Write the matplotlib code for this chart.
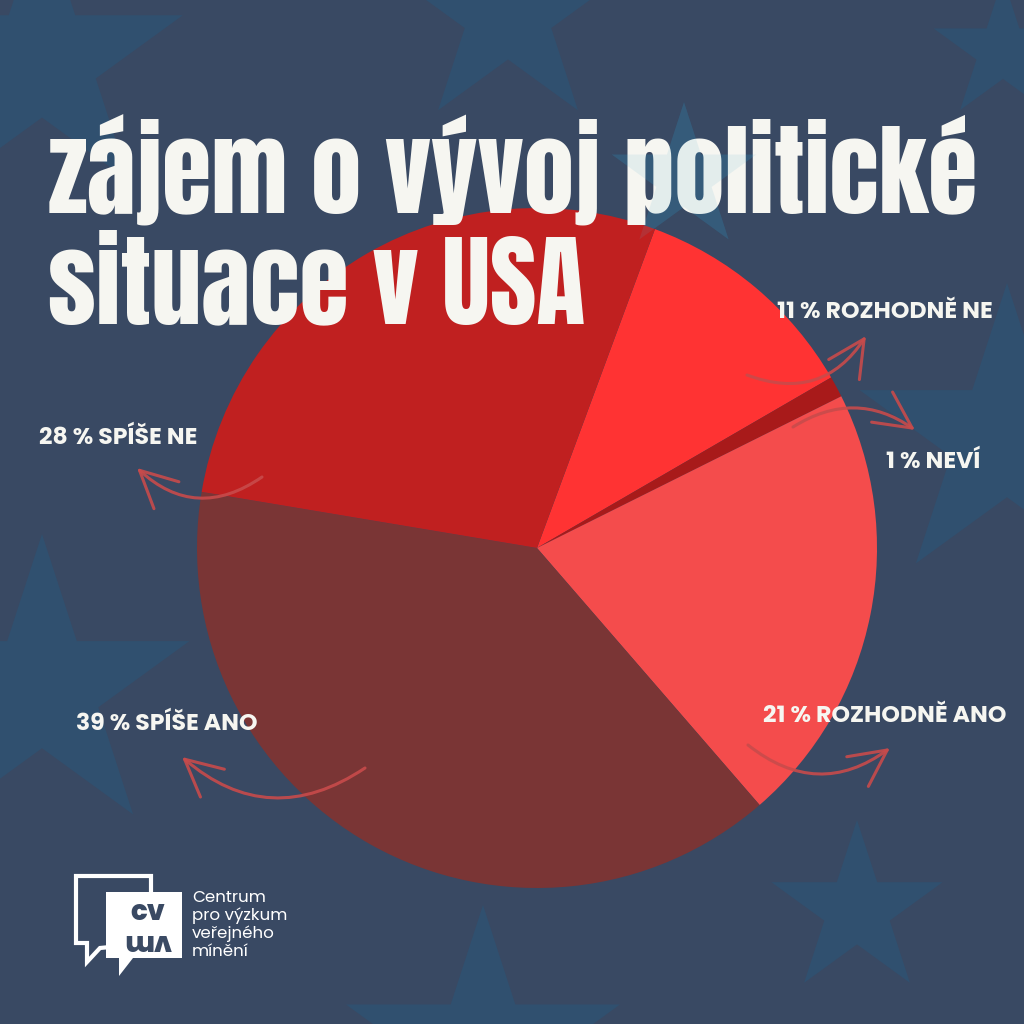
import numpy as np
import matplotlib
matplotlib.use("Agg")
import matplotlib.pyplot as plt
from matplotlib.patches import Polygon

# data
labels = ["11 % ROZHODNĚ NE", "1 % NEVÍ", "21 % ROZHODNĚ ANO", "39 % SPÍŠE ANO", "28 % SPÍŠE NE"]
shares = [11, 1, 21, 39, 28]
slice_colors = ["#FF3333", "#A81A1A", "#F44C4C", "#7A3535", "#C02020"]
title_lines = ["zájem o vývoj politické", "situace v USA"]
logo_lines = ["Centrum", "pro výzkum", "veřejného", "mínění"]

BG = "#394963"
STAR = "#30506F"
WHITE = "#F6F6F1"
ARROW = "#C84B4B"
LABEL_FONT = "Poppins"

H = 1024


def Y(y):
    # image pixel row -> data y
    return H - y


def star_xy(cx, cy, r):
    ang = np.deg2rad(90 + 36 * np.arange(10))
    rad = np.where(np.arange(10) % 2 == 0, r, 0.382 * r)
    return np.column_stack([cx + rad * np.cos(ang), Y(cy - rad * np.sin(ang))])


fig = plt.figure(figsize=(10.24, 10.24), dpi=100, facecolor=BG)
ax = fig.add_axes([0, 0, 1, 1])
ax.set_facecolor(BG)

# background stars (center x, center y, outer radius) in pixels
stars = [(42, 61, 148), (508, 14, 119), (1003, 51, 73), (684, 178, 76),
         (1007, 438, 155), (42, 689, 155), (857, 910, 90), (483, 1049, 144)]
for cx, cy, r in stars:
    ax.add_patch(Polygon(star_xy(cx, cy, r), closed=True, color=STAR, lw=0, zorder=1))

# pie
ax.pie(shares, colors=slice_colors, startangle=69.7, counterclock=False,
       center=(537, Y(548)), radius=340, wedgeprops=dict(linewidth=0, zorder=2))
ax.set_xlim(0, 1024)
ax.set_ylim(0, 1024)
ax.set_aspect("equal")
ax.axis("off")

# title, sized to the reference width
t1 = ax.text(48, Y(214), title_lines[0], fontfamily="Anton", fontsize=100,
             color=WHITE, ha="left", va="baseline", zorder=5)
fig.canvas.draw()
fs = 100 * 928 / t1.get_window_extent().width
t1.set_fontsize(fs)
ax.text(48, Y(323), title_lines[1], fontfamily="Anton", fontsize=fs,
        color=WHITE, ha="left", va="baseline", zorder=5)

# faint star sitting over the title
ax.add_patch(Polygon(star_xy(684, 178, 76), closed=True, color="#5FB0D0",
                     alpha=0.12, lw=0, zorder=6))

# labels: text centre, arrow start, arrow tip, curvature
label_pos = [(885, 313), (933, 463), (885, 717), (167, 724), (118, 438)]
arrow_start = [(747, 375), (793, 427), (748, 745), (365, 768), (262, 477)]
arrow_tip = [(866, 336), (915, 430), (890, 748), (182, 757), (137, 468)]
arrow_rad = [0.4, -0.33, 0.38, -0.38, -0.4]

for lab, (lx, ly), (sx, sy), (ex, ey), rad in zip(labels, label_pos, arrow_start,
                                                   arrow_tip, arrow_rad):
    ax.text(lx, Y(ly), lab, fontfamily=LABEL_FONT, fontweight="bold", fontsize=17,
            color=WHITE, ha="center", va="center", zorder=7)
    ax.annotate("", xy=(ex, Y(ey)), xytext=(sx, Y(sy)), zorder=6,
                arrowprops=dict(arrowstyle="->,head_length=1.2,head_width=0.6",
                                mutation_scale=22, color=ARROW, alpha=0.9, lw=2.2,
                                shrinkA=0, shrinkB=0,
                                connectionstyle=f"arc3,rad={rad}"))

# logo: outlined back bubble and filled front bubble
back = [(76, 876), (151, 876), (151, 943), (100, 948), (87, 962), (87, 943), (76, 943)]
ax.add_patch(Polygon([(x, Y(y)) for x, y in back], closed=True, fill=False,
                     edgecolor="white", lw=3, joinstyle="miter", zorder=8))
front = [(106, 892), (182, 892), (182, 958), (133, 958), (119, 976), (119, 958), (106, 958)]
ax.add_patch(Polygon([(x, Y(y)) for x, y in front], closed=True, facecolor="white",
                     edgecolor="none", zorder=9))
ax.text(148, Y(913), "cv", fontfamily=LABEL_FONT, fontweight="heavy", fontsize=20,
        color=BG, ha="center", va="center", zorder=10)
ax.text(148, Y(941), "vm", fontfamily=LABEL_FONT, fontweight="heavy", fontsize=20,
        color=BG, ha="center", va="center", rotation=180, zorder=10)
for i, line in enumerate(logo_lines):
    ax.text(192, Y(898 + 18 * i), line, fontfamily=LABEL_FONT, fontweight="normal",
            fontsize=12, color="white", ha="left", va="center", zorder=10)

fig.savefig("out.png", dpi=100, facecolor=BG)
